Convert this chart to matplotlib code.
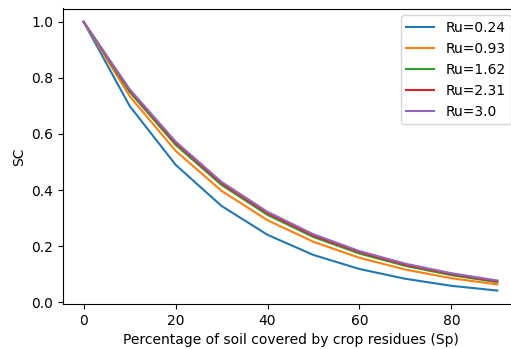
import numpy as np
import matplotlib
matplotlib.use("Agg")
import matplotlib.pyplot as plt

# share of soil covered by residues (%)
sp = [0, 10, 20, 30, 40, 50, 60, 70, 80, 90]

ru_labels = ["Ru=0.24", "Ru=0.93", "Ru=1.62", "Ru=2.31", "Ru=3.0"]

sc_024 = [1.0, 0.700, 0.490, 0.343, 0.240, 0.168, 0.118, 0.083, 0.058, 0.041]
sc_093 = [1.0, 0.735, 0.540, 0.397, 0.292, 0.215, 0.158, 0.116, 0.085, 0.063]
sc_162 = [1.0, 0.750, 0.561, 0.418, 0.311, 0.232, 0.173, 0.129, 0.096, 0.071]
sc_231 = [1.0, 0.756, 0.568, 0.424, 0.317, 0.237, 0.178, 0.133, 0.100, 0.074]
sc_300 = [1.0, 0.760, 0.573, 0.429, 0.322, 0.242, 0.182, 0.137, 0.103, 0.077]

fig = plt.figure(figsize=(5.11, 3.49), dpi=100)
ax = fig.add_axes([63 / 511, 45 / 349, 455 / 511, 295.5 / 349])

for y, lab in zip([sc_024, sc_093, sc_162, sc_231, sc_300], ru_labels):
    ax.plot(sp, y, label=lab)

ax.set_xlabel("Percentage of soil covered by crop residues (Sp)")
ax.set_ylabel("SC")
ax.legend(loc="upper right")

fig.savefig("out.png", dpi=100)
